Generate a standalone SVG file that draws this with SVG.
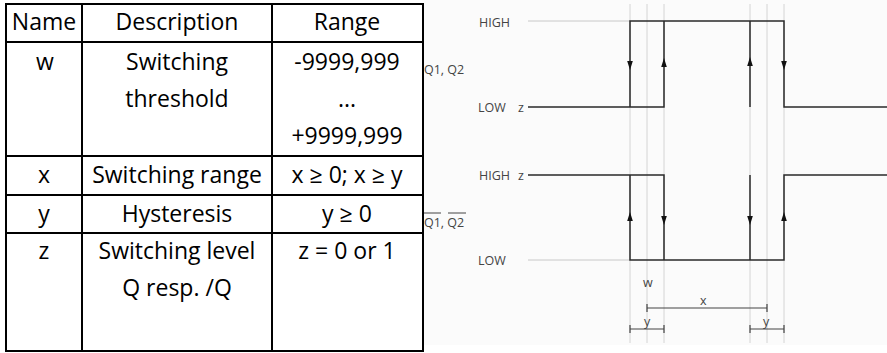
<svg xmlns="http://www.w3.org/2000/svg" width="887" height="353" viewBox="0 0 887 353">
<style>
.tb{stroke:#000;stroke-width:2;fill:none}
.tt{font-family:"Open Sans","Noto Sans",sans-serif;font-size:23px;fill:#000;text-anchor:middle}
.lbl{font-family:"Open Sans","Noto Sans",sans-serif;font-size:12.5px;fill:#444}
.guide{stroke:#d4d4d4;stroke-width:1;fill:none}
.faint{stroke:#c8c8c8;stroke-width:1;fill:none}
.wave{stroke:#2a2a2a;stroke-width:1.5;fill:none}
.dim{stroke:#444;stroke-width:1.2;fill:none}
.ah{fill:#111}
</style>
<defs>
<polygon id="aDown" class="ah" points="-2.8,0 2.8,0 0,9"/>
<polygon id="aUp" class="ah" points="-2.8,0 2.8,0 0,-9"/>
</defs>
<rect x="0" y="0" width="887" height="353" fill="#fff"/>
<rect x="424" y="0" width="463" height="345" fill="#fbfbfb"/>

<g id="table">
<rect class="tb" x="6" y="4" width="417" height="347"/>
<line class="tb" x1="82" y1="4" x2="82" y2="351"/>
<line class="tb" x1="272" y1="4" x2="272" y2="351"/>
<line class="tb" x1="6" y1="42" x2="423" y2="42"/>
<line class="tb" x1="6" y1="156" x2="423" y2="156"/>
<line class="tb" x1="6" y1="195" x2="423" y2="195"/>
<line class="tb" x1="6" y1="233" x2="423" y2="233"/>
<g id="row-header">
<text class="tt" x="44" y="30">Name</text>
<text class="tt" x="177" y="30">Description</text>
<text class="tt" x="347" y="30">Range</text>
</g>
<g id="row-w">
<text class="tt" x="45" y="70">w</text>
<text class="tt" x="177" y="70">Switching</text>
<text class="tt" x="177" y="107">threshold</text>
<text class="tt" x="347" y="70">-9999,999</text>
<text class="tt" x="347" y="107">...</text>
<text class="tt" x="347" y="144">+9999,999</text>
</g>
<g id="row-x">
<text class="tt" x="44" y="183">x</text>
<text class="tt" x="177" y="183">Switching range</text>
<text class="tt" x="347" y="183">x ≥ 0; x ≥ y</text>
</g>
<g id="row-y">
<text class="tt" x="44" y="222">y</text>
<text class="tt" x="177" y="222">Hysteresis</text>
<text class="tt" x="347" y="222">y ≥ 0</text>
</g>
<g id="row-z">
<text class="tt" x="44" y="259">z</text>
<text class="tt" x="177" y="259">Switching level</text>
<text class="tt" x="177" y="296">Q resp. /Q</text>
<text class="tt" x="347" y="259">z = 0 or 1</text>
</g>
</g>

<g id="guides">
<line class="guide" x1="630" y1="4" x2="630" y2="343"/>
<line class="guide" x1="647" y1="4" x2="647" y2="343"/>
<line class="guide" x1="664" y1="4" x2="664" y2="343"/>
<line class="guide" x1="750" y1="4" x2="750" y2="343"/>
<line class="guide" x1="767" y1="4" x2="767" y2="343"/>
<line class="guide" x1="784" y1="4" x2="784" y2="343"/>
</g>

<g id="q-wave">
<text class="lbl" x="424" y="74">Q1, Q2</text>
<text class="lbl" x="479" y="27">HIGH</text>
<text class="lbl" x="478" y="112">LOW</text>
<text class="lbl" x="518" y="112">z</text>
<line class="faint" x1="528" y1="21" x2="630" y2="21"/>
<polyline class="wave" points="528,107 664,107 664,21"/>
<polyline class="wave" points="630,107 630,21 784,21 784,107 887,107"/>
<line class="wave" x1="750" y1="21" x2="750" y2="107"/>
<use href="#aDown" x="630" y="61"/>
<use href="#aUp" x="664" y="67"/>
<use href="#aUp" x="750" y="66"/>
<use href="#aDown" x="784" y="61"/>
</g>

<g id="qbar-wave">
<text class="lbl" x="424" y="227">Q1, Q2</text>
<line stroke="#444" stroke-width="1" x1="424" y1="213" x2="441" y2="213"/>
<line stroke="#444" stroke-width="1" x1="448" y1="213" x2="466" y2="213"/>
<text class="lbl" x="479" y="180">HIGH</text>
<text class="lbl" x="518" y="180">z</text>
<text class="lbl" x="478" y="265">LOW</text>
<line class="faint" x1="528" y1="260" x2="630" y2="260"/>
<polyline class="wave" points="528,175 664,175 664,260"/>
<polyline class="wave" points="630,175 630,260 784,260 784,175 887,175"/>
<line class="wave" x1="750" y1="175" x2="750" y2="260"/>
<use href="#aUp" x="630" y="221"/>
<use href="#aDown" x="664" y="216"/>
<use href="#aDown" x="750" y="216"/>
<use href="#aUp" x="784" y="221"/>
</g>

<g id="connectors">
<text class="lbl" x="643" y="287">w</text>
<text class="lbl" x="700" y="305">x</text>
<line class="dim" x1="647" y1="308" x2="767" y2="308"/>
<line class="dim" x1="647" y1="304" x2="647" y2="312"/>
<line class="dim" x1="767" y1="304" x2="767" y2="312"/>
<text class="lbl" x="644" y="326">y</text>
<line class="dim" x1="630" y1="329" x2="664" y2="329"/>
<line class="dim" x1="630" y1="325" x2="630" y2="333"/>
<line class="dim" x1="664" y1="325" x2="664" y2="333"/>
<text class="lbl" x="763" y="326">y</text>
<line class="dim" x1="750" y1="329" x2="784" y2="329"/>
<line class="dim" x1="750" y1="325" x2="750" y2="333"/>
<line class="dim" x1="784" y1="325" x2="784" y2="333"/>
</g>
</svg>
